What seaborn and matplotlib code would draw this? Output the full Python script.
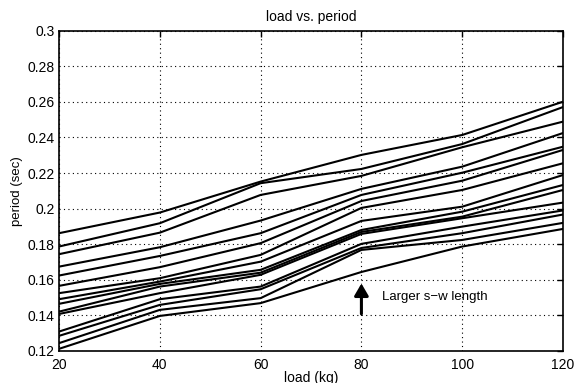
import numpy as np
import pandas as pd
import matplotlib
matplotlib.use("Agg")
import matplotlib.pyplot as plt
import seaborn as sns

loads = [20, 40, 60, 80, 100, 120]
s01 = [0.1862, 0.1978, 0.2152, 0.2302, 0.2414, 0.2601]
s02 = [0.1787, 0.1918, 0.2143, 0.2223, 0.2363, 0.2571]
s03 = [0.1744, 0.1865, 0.2077, 0.2184, 0.2345, 0.2489]
s04 = [0.1674, 0.1783, 0.1933, 0.2111, 0.2236, 0.2425]
s05 = [0.1624, 0.1734, 0.1862, 0.2077, 0.2202, 0.2348]
s06 = [0.1566, 0.1671, 0.1806, 0.2043, 0.2157, 0.2330]
s07 = [0.1525, 0.1609, 0.1740, 0.2004, 0.2105, 0.2255]
s08 = [0.1491, 0.1590, 0.1702, 0.1931, 0.2011, 0.2189]
s09 = [0.1465, 0.1577, 0.1656, 0.1880, 0.1983, 0.2133]
s10 = [0.1421, 0.1562, 0.1640, 0.1869, 0.1955, 0.2105]
s11 = [0.1408, 0.1525, 0.1628, 0.1858, 0.1946, 0.2034]
s12 = [0.1309, 0.1491, 0.1562, 0.1802, 0.1899, 0.1990]
s13 = [0.1285, 0.1459, 0.1547, 0.1779, 0.1862, 0.1967]
s14 = [0.1244, 0.1431, 0.1497, 0.1768, 0.1824, 0.1920]
s15 = [0.1212, 0.1397, 0.1469, 0.1644, 0.1787, 0.1886]
series = [s01, s02, s03, s04, s05, s06, s07, s08, s09, s10, s11, s12, s13, s14, s15]

xticks = [20, 40, 60, 80, 100, 120]
yticks = [0.12, 0.14, 0.16, 0.18, 0.2, 0.22, 0.24, 0.26, 0.28, 0.3]
ytick_labels = ["0.12", "0.14", "0.16", "0.18", "0.2", "0.22", "0.24", "0.26", "0.28", "0.3"]

rows = []
for i, s in enumerate(series):
    for x, y in zip(loads, s):
        rows.append({"load": x, "period": y, "line": i})
df = pd.DataFrame(rows)

sns.set_theme(style="white")
plt.rcParams["font.family"] = ["Liberation Sans", "DejaVu Sans"]

fig = plt.figure(figsize=(5.79, 3.83), dpi=100)
ax = fig.add_axes([0.1019, 0.0836, 0.8705, 0.8362])

sns.lineplot(data=df, x="load", y="period", hue="line",
             palette=["black"] * len(series), legend=False, ax=ax,
             linewidth=1.5, estimator=None, sort=False)

ax.set_xlim(20, 120)
ax.set_ylim(0.12, 0.3)
ax.set_xticks(xticks)
ax.set_xticklabels([str(t) for t in xticks])
ax.set_yticks(yticks)
ax.set_yticklabels(ytick_labels)
ax.grid(True, color="black", linestyle=(0, (1, 3)), linewidth=0.8)
ax.tick_params(direction="in", length=4, width=1, top=True, right=True,
               labelsize=10, colors="black")
ax.tick_params(axis="x", pad=5)
ax.tick_params(axis="y", pad=3)
for sp in ax.spines.values():
    sp.set_color("black")
    sp.set_linewidth(1.2)

ax.set_title("load vs. period", fontsize=10, color="black", pad=7)
ax.set_xlabel("load (kg)", fontsize=10, color="black", labelpad=-1)
ax.set_ylabel("period (sec)", fontsize=9.5, color="black", labelpad=3)

ax.annotate("", xy=(80, 0.1595), xytext=(80, 0.1393),
            arrowprops=dict(arrowstyle="-|>,head_length=0.6,head_width=0.35",
                            color="black", linewidth=2.2))
ax.text(84, 0.1505, "Larger s\u2212w length", fontsize=9.5, color="black",
        va="center", ha="left")

fig.savefig("out.png", dpi=100)
